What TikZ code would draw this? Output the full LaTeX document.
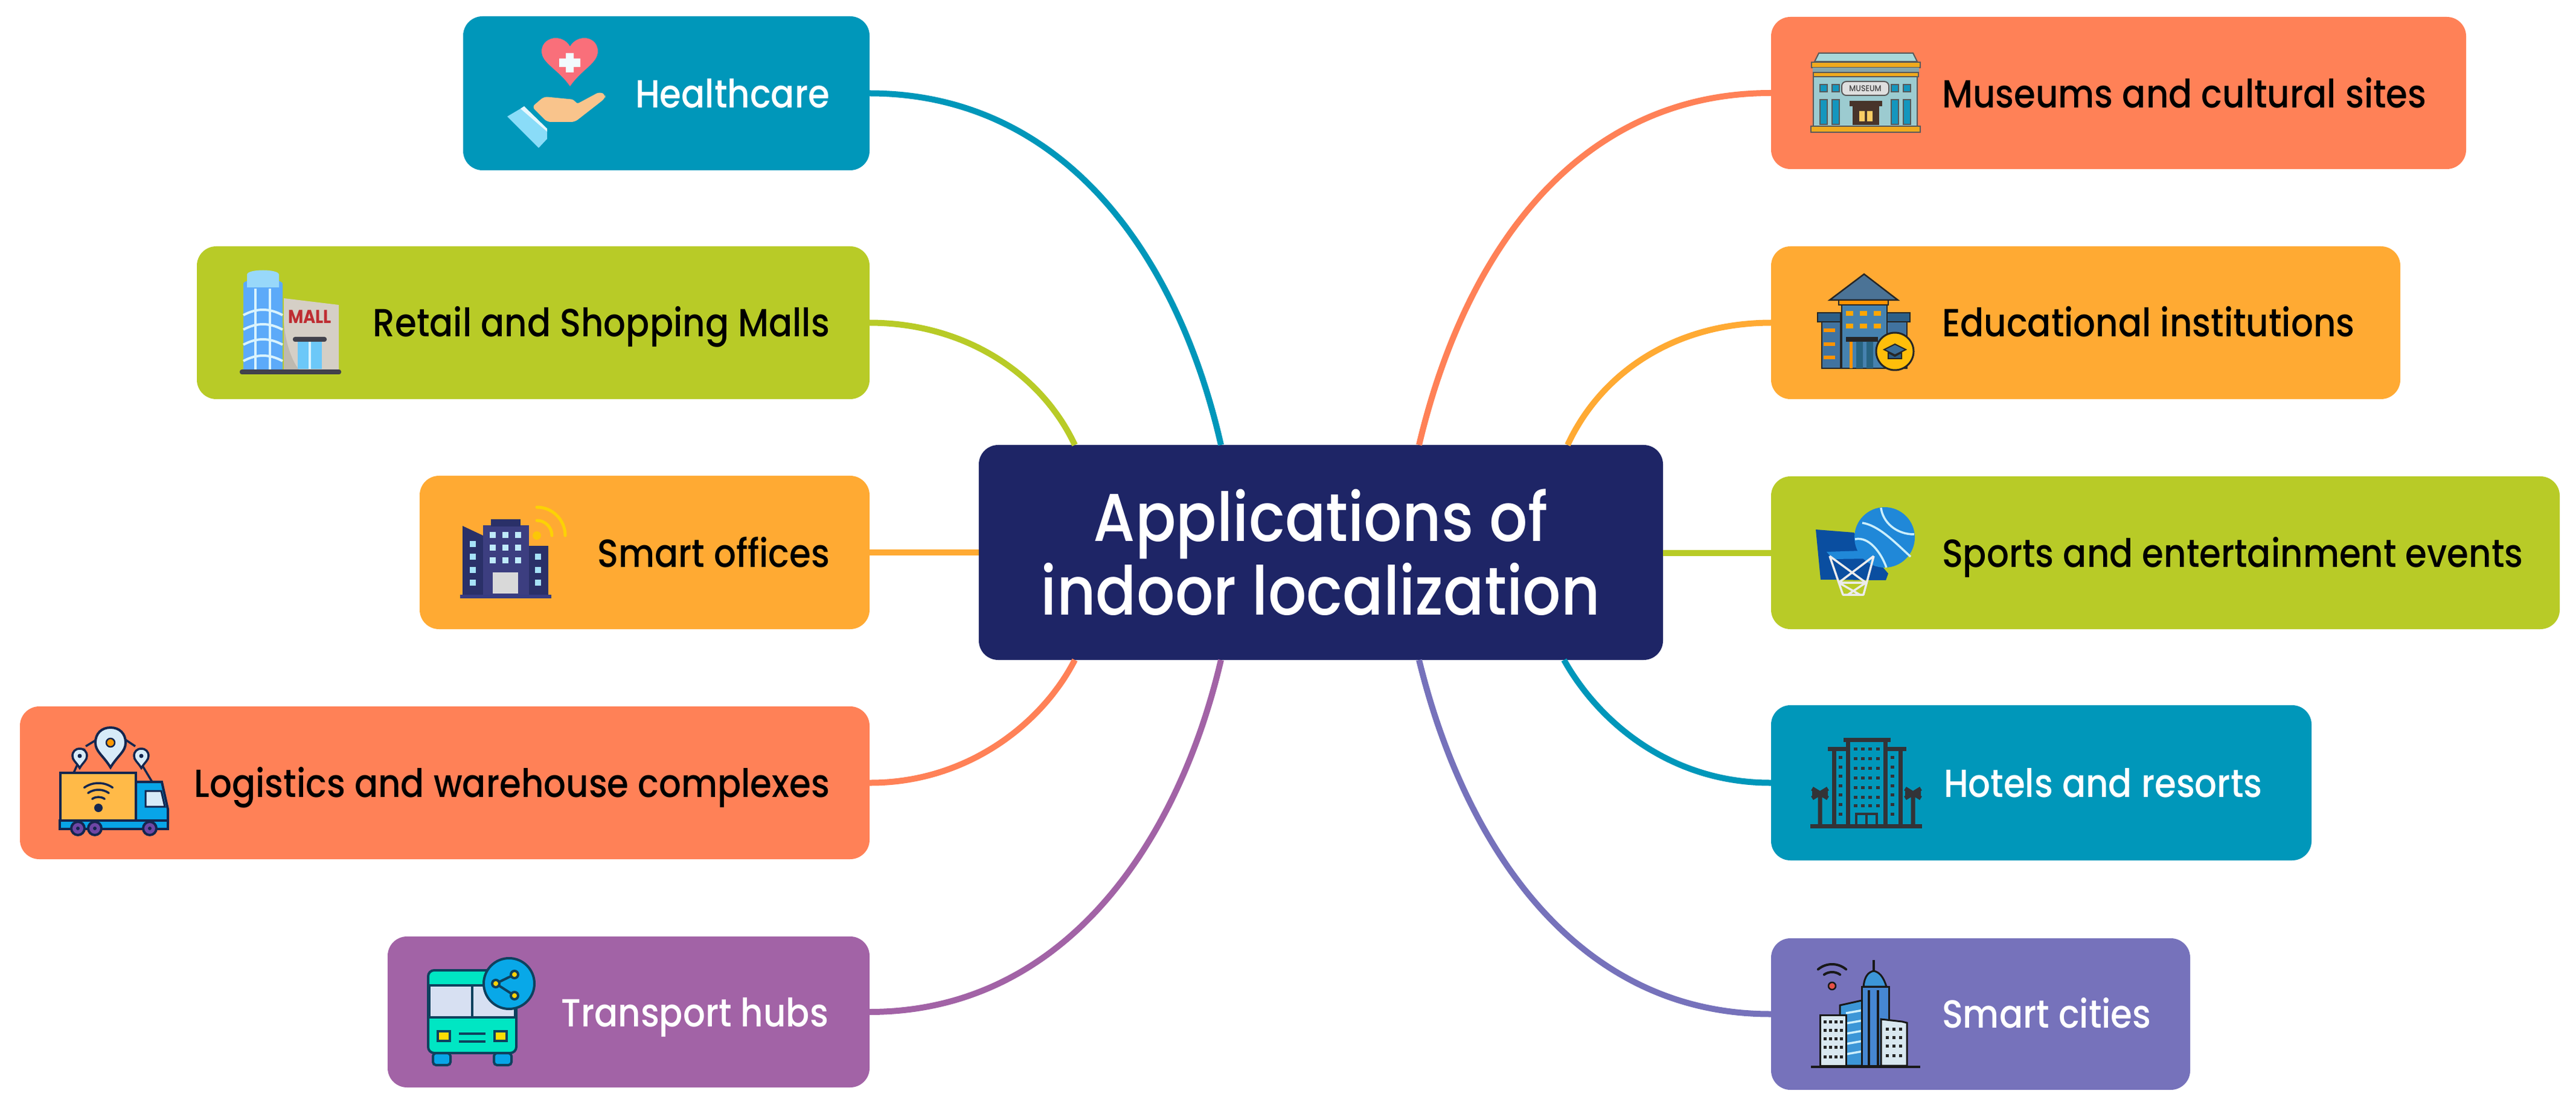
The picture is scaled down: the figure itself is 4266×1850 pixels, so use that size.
\documentclass[tikz,border=0pt]{standalone}
\usepackage{fontspec}
\setmainfont{Poppins}[UprightFont=* Medium,BoldFont=* Bold,FakeStretch=0.89]
\definecolor{cteal}{HTML}{0097BA}
\definecolor{cgreen}{HTML}{B8CB27}
\definecolor{corange}{HTML}{FFAA33}
\definecolor{ccoral}{HTML}{FF8157}
\definecolor{cpurple}{HTML}{A263A6}
\definecolor{cperi}{HTML}{7672BB}
\definecolor{cnavy}{HTML}{1E2566}
\definecolor{inavy}{HTML}{14264F}
\definecolor{sky}{HTML}{6CC8F8}
\def\uu{0.2pt}
\tikzset{
  x=0.2pt,y=-0.2pt,
  bx/.style={rectangle,rounded corners=6.4pt,inner sep=0pt,outer sep=0pt},
  lab/.style={inner sep=0pt,outer sep=0pt,font=\fontsize{13}{15}\selectfont},
  labL/.style={lab,anchor=base east},
  labR/.style={lab,anchor=base west},
  conn/.style={line width=2pt,line cap=butt},
}
\newcommand{\bxnode}[6]{\node[bx,fill=#6,minimum width={(#4-#2)*\uu},minimum height={(#5-#3)*\uu}] (#1) at ({(#2+#4)/2},{(#3+#5)/2}) {};}
\newcommand{\pinpath}[4]{({#1},{#4}) .. controls ({#1-0.5*#3},{#4-0.5*(#4-#2)}) and ({#1-#3},{#2+0.6*#3}) .. ({#1-#3},{#2}) .. controls ({#1-#3},{#2-0.6*#3}) and ({#1-0.6*#3},{#2-#3}) .. ({#1},{#2-#3}) .. controls ({#1+0.6*#3},{#2-#3}) and ({#1+#3},{#2-0.6*#3}) .. ({#1+#3},{#2}) .. controls ({#1+#3},{#2+0.6*#3}) and ({#1+0.5*#3},{#4-0.5*(#4-#2)}) .. ({#1},{#4}) -- cycle}
% wifi arcs: x, y, start, end, radius(px), colour, width
\newcommand{\wifiarc}[7]{\draw[#6,line width=#7,line cap=round] ([shift={(#1,#2)}]#3:#5*\uu) arc[start angle=#3,end angle=#4,radius=#5*\uu];}
\begin{document}
\begin{tikzpicture}
\useasboundingbox (0,0) rectangle (4266,1850);
% ---- boxes
\bxnode{center}{1621}{737}{2754}{1093}{cnavy}
\bxnode{hc}{767}{27}{1440}{282}{cteal}
\bxnode{retail}{326}{408}{1440}{661}{cgreen}
\bxnode{office}{695}{788}{1440}{1042}{corange}
\bxnode{logi}{33}{1170}{1440}{1423}{ccoral}
\bxnode{trans}{642}{1551}{1440}{1801}{cpurple}
\bxnode{muse}{2933}{28}{4084}{280}{ccoral}
\bxnode{edu}{2933}{408}{3975}{661}{corange}
\bxnode{sport}{2933}{789}{4239}{1042}{cgreen}
\bxnode{hotel}{2933}{1168}{3828}{1425}{cteal}
\bxnode{city}{2933}{1554}{3627}{1805}{cperi}
% ---- connector ends on the centre box
\coordinate (t1) at (1780,737);
\coordinate (t2) at (2022,737);
\coordinate (t3) at (2350,737);
\coordinate (t4) at (2596,737);
\coordinate (b1) at (1780,1093);
\coordinate (b2) at (2022,1093);
\coordinate (b3) at (2350,1093);
\coordinate (b4) at (2590,1093);
% ---- connectors
\draw[conn,cteal] (hc.east) .. controls (1760,155) and (1950,420) .. (t2);
\draw[conn,cgreen] (retail.east) .. controls (1600,535) and (1725,620) .. (t1);
\draw[conn,corange] (office.east) -- (center.west |- office.east);
\draw[conn,ccoral] (logi.east) .. controls (1600,1297) and (1725,1200) .. (b1);
\draw[conn,cpurple] (trans.east) .. controls (1760,1676) and (1950,1400) .. (b2);
\draw[conn,ccoral] (muse.west) .. controls (2610,154) and (2425,420) .. (t3);
\draw[conn,corange] (edu.west) .. controls (2770,535) and (2650,620) .. (t4);
\draw[conn,cgreen] (sport.west) -- (center.east |- sport.west);
\draw[conn,cteal] (hotel.west) .. controls (2770,1297) and (2650,1200) .. (b4);
\draw[conn,cperi] (city.west) .. controls (2610,1680) and (2425,1400) .. (b3);
% ---- texts
\node[align=center,text=white,inner sep=0pt,font=\fontsize{22.4}{24.4}\selectfont] (title) at (2187,915) {Applications of\hspace{10pt}\\indoor localization};
\node[labL,text=white] (lhc) at (1374,179) {Healthcare};
\node[labL,text=black] (lretail) at (1374,558) {Retail and Shopping Malls};
\node[labL,text=black] (loffice) at (1374,939) {Smart offices};
\node[labL,text=black] (llogi) at (1374,1320) {Logistics and warehouse complexes};
\node[labL,text=white] (ltrans) at (1372,1700) {Transport hubs};
\node[labR,text=black] (lmuse) at (3216,179) {Museums and cultural sites};
\node[labR,text=black] (ledu) at (3216,558) {Educational institutions};
\node[labR,text=black] (lsport) at (3216,939) {Sports and entertainment events};
\node[labR,text=white] (lhotel) at (3219,1320) {Hotels and resorts};
\node[labR,text=white] (lcity) at (3216,1702) {Smart cities};
% ---- icon: healthcare
\fill[fill={rgb,255:red,249;green,111;blue,122}] (944,143) .. controls (925,115) and (897,105) .. (897,85) .. controls (897,70) and (910,63) .. (920,63) .. controls (932,63) and (940,70) .. (944,77) .. controls (948,70) and (956,63) .. (968,63) .. controls (978,63) and (990,70) .. (990,85) .. controls (990,105) and (963,115) .. (944,143) -- cycle;
\fill[white!95!cyan] (937,88) rectangle (950,120) (926,97) rectangle (961,111);
\fill[fill={rgb,255:red,249;green,196;blue,140},rounded corners=1.2pt] (881,177) -- (901,160) -- (952,165) -- (954,173) -- (993,152) -- (1003,157) -- (1002,163) -- (952,202) -- (906,202) -- cycle;
\fill[fill={rgb,255:red,138;green,220;blue,248}] (840,193) -- (867,177) -- (906,215) -- (906,230) -- (892,245) -- cycle;
\fill[white!90!cyan] (862,180) -- (868,176) -- (906,213) -- (906,218) -- cycle;
% ---- icon: mall
\fill[sky!85!blue] (403,470) .. controls (403,460) and (468,460) .. (468,470) -- (468,612) -- (403,612) -- cycle;
\fill[sky!70!white] (409,455) .. controls (409,445) and (462,445) .. (462,455) -- (462,476) -- (409,476) -- cycle;
\draw[white!85!cyan,line width=0.8pt] (423,478) -- (423,612) (447,478) -- (447,612);
\foreach \yy in {514,538,563,590} {\draw[white!85!cyan,line width=0.8pt] (403,\yy+8) .. controls (425,\yy-4) and (446,\yy-4) .. (468,\yy+8);}
\fill[fill={rgb,255:red,213;green,207;blue,198}] (470,494) -- (561,505) -- (561,612) -- (470,612) -- cycle;
\fill[fill={rgb,255:red,190;green,185;blue,175}] (470,530) .. controls (472,570) and (485,600) .. (495,612) -- (470,612) -- cycle;
\node[inner sep=0pt,text={rgb,255:red,190;green,45;blue,50},font=\fontsize{6.2}{6.5}\bfseries\selectfont] (mall) at (513,525) {MALL};
\fill[sky] (493,566) rectangle (533,611);
\draw[white!85!cyan,line width=0.8pt] (513,566) -- (513,611);
\fill[fill={rgb,255:red,65;green,65;blue,75},rounded corners=0.7pt] (485,558) rectangle (541,566);
\fill[fill={rgb,255:red,65;green,65;blue,75},rounded corners=0.7pt] (397,612) rectangle (565,620);
% ---- icon: offices
\fill[fill={rgb,255:red,42;green,48;blue,104}] (766,871) -- (800,887) -- (800,985) -- (766,985) -- cycle;
\fill[fill={rgb,255:red,60;green,62;blue,128}] (800,870) rectangle (876,985);
\fill[fill={rgb,255:red,42;green,48;blue,104}] (813,860) rectangle (862,872);
\fill[fill={rgb,255:red,42;green,48;blue,104}] (876,904) rectangle (908,985);
\fill[fill={rgb,255:red,55;green,60;blue,130}] (762,985) rectangle (913,991);
\foreach \xx in {816,837,858}{\foreach \yy in {886,907,928}{\fill[cyan!25!white] (\xx-5,\yy-5) rectangle ++(10,10);}}
\foreach \yy in {901,922,944,965}{\fill[cyan!35!white] (783-5,\yy-5) rectangle ++(10,10);}
\foreach \yy in {922,944,965}{\fill[cyan!35!white] (891-5,\yy-5) rectangle ++(10,10);}
\fill[gray!30] (816,948) rectangle (858,983);
\fill[yellow!60!orange] (889,887) circle[radius=7*\uu];
\wifiarc{889}{887}{0}{90}{25}{yellow!70!orange}{1pt}
\wifiarc{889}{887}{0}{90}{47}{yellow!70!orange}{1pt}
% ---- icon: truck
\draw[inavy,line width=0.7pt] (140,1240) -- (122,1280) (225,1250) -- (252,1295) (165,1222) -- (142,1236) (203,1222) -- (224,1236);
\fill[fill={rgb,255:red,255;green,186;blue,72},draw=inavy,line width=0.8pt] (100,1280) rectangle (225,1359);
\fill[fill={rgb,255:red,8;green,165;blue,232},draw=inavy,line width=0.8pt] (225,1295) -- (268,1295) -- (278,1340) -- (278,1362) -- (225,1362) -- cycle;
\fill[fill={rgb,255:red,215;green,235;blue,248},draw=inavy,line width=0.6pt] (241,1310) -- (267,1310) -- (273,1336) -- (241,1336) -- cycle;
\fill[fill={rgb,255:red,8;green,165;blue,232},draw=inavy,line width=0.8pt] (99,1359) rectangle (278,1373);
\foreach \xx in {129,157,248}{\fill[fill={rgb,255:red,110;green,70;blue,165},draw=inavy,line width=0.8pt] (\xx,1372) circle[radius=11*\uu]; \fill[inavy] (\xx,1372) circle[radius=3*\uu];}
\fill[fill={rgb,255:red,215;green,235;blue,248},draw=inavy,line width=0.8pt] \pinpath{183}{1230}{25}{1271};
\fill[fill=orange!80!yellow,draw=inavy,line width=0.5pt] (183,1230) circle[radius=7*\uu];
\fill[fill={rgb,255:red,215;green,235;blue,248},draw=inavy,line width=0.7pt] \pinpath{132}{1252}{12}{1272};
\fill[inavy] (132,1252) circle[radius=3.5*\uu];
\fill[fill={rgb,255:red,215;green,235;blue,248},draw=inavy,line width=0.7pt] \pinpath{234}{1252}{12}{1272};
\fill[inavy] (234,1252) circle[radius=3.5*\uu];
\fill[inavy] (163,1338) circle[radius=7*\uu];
\wifiarc{163}{1338}{55}{125}{18}{inavy}{0.7pt}
\wifiarc{163}{1338}{55}{125}{30}{inavy}{0.7pt}
\wifiarc{163}{1338}{55}{125}{41}{inavy}{0.7pt}
% ---- icon: bus
\tikzset{busline/.style={draw=inavy!70!teal,line width=0.8pt}}
\fill[fill={rgb,255:red,8;green,165;blue,232},busline,rounded corners=1pt] (717,1744) rectangle (746,1764);
\fill[fill={rgb,255:red,8;green,165;blue,232},busline,rounded corners=1pt] (818,1744) rectangle (847,1764);
\fill[fill={rgb,255:red,0;green,230;blue,195},busline,rounded corners=2pt] (709,1607) rectangle (855,1744);
\fill[fill={rgb,255:red,215;green,224;blue,242},busline] (711,1632) rectangle (782,1685) (782,1632) rectangle (853,1685);
\fill[fill=yellow!80!orange,busline] (725,1708) rectangle (745,1724) (819,1708) rectangle (839,1724);
\draw[busline] (760,1712) -- (804,1712) (760,1725) -- (804,1725);
\fill[fill={rgb,255:red,8;green,168;blue,232},busline] (843,1629) circle[radius=42*\uu];
\draw[busline] (852,1614) -- (821,1629) -- (852,1649);
\foreach \pp in {(852,1614),(821,1629),(852,1649)}{\fill[fill=yellow!70!orange,busline] \pp circle[radius=6*\uu];}
% ---- icon: museum
\tikzset{museline/.style={draw=black!65,line width=0.4pt}}
\fill[fill={rgb,255:red,168;green,216;blue,218},museline] (3005,102) -- (3012,88) -- (3168,88) -- (3175,102) -- cycle;
\fill[fill={rgb,255:red,156;green,203;blue,208},museline] (3003,126) rectangle (3175,209);
\fill[fill={rgb,255:red,240;green,170;blue,30},museline] (3000,103) rectangle (3180,112);
\fill[fill={rgb,255:red,135;green,165;blue,170}] (3002,112) rectangle (3178,120);
\fill[fill={rgb,255:red,240;green,170;blue,30},museline] (3003,120) rectangle (3177,127);
\fill[fill={rgb,255:red,240;green,170;blue,30},museline] (2999,209) rectangle (3180,219);
\foreach \xx in {3020,3040,3138,3158}{\fill[fill={rgb,255:red,20;green,150;blue,190},museline] (\xx-6,140) rectangle ++(12,12); \fill[fill={rgb,255:red,20;green,150;blue,190},museline] (\xx-6,165) rectangle ++(12,41);}
\fill[fill=white!75!gray,museline,rounded corners=1.5pt] (3050,135) rectangle (3128,158);
\node[inner sep=0pt,text=black!75,font=\fontsize{2.8}{3}\selectfont] (musesign) at (3089,146.5) {MUSEUM};
\fill[fill={rgb,255:red,72;green,52;blue,42}] (3068,176) rectangle (3112,207);
\fill[fill={rgb,255:red,72;green,52;blue,42}] (3063,167) rectangle (3117,176);
\fill[fill={rgb,255:red,250;green,205;blue,100}] (3079,184) rectangle (3088,201) (3092,184) rectangle (3101,201);
% ---- icon: school
\tikzset{eduline/.style={draw=black!85,line width=0.5pt}}
\fill[fill={rgb,255:red,65;green,115;blue,160},eduline] (3017,527) rectangle (3048,610);
\fill[fill={rgb,255:red,65;green,115;blue,160},eduline] (3125,527) rectangle (3158,610);
\fill[fill={rgb,255:red,45;green,95;blue,135},eduline] (3010,518) rectangle (3048,533);
\fill[fill={rgb,255:red,45;green,95;blue,135},eduline] (3125,518) rectangle (3163,533);
\foreach \yy in {547,570,592}{\fill[fill=orange!85!yellow] (3020,\yy-3) rectangle (3039,\yy+3);}
\fill[fill={rgb,255:red,70;green,130;blue,175},eduline] (3050,505) rectangle (3125,610);
\fill[fill={rgb,255:red,75;green,115;blue,150},eduline] (3030,497) -- (3087,454) -- (3143,497) -- cycle;
\fill[fill=orange!85!yellow,eduline] (3045,497) rectangle (3127,505);
\foreach \xx in {3063,3086,3109}{\foreach \yy in {519,540}{\fill[fill=orange!70!yellow] (\xx-6,\yy-4) rectangle ++(12,8);}}
\fill[black!85] (3057,558) rectangle (3110,566);
\fill[fill=orange!85!yellow] (3063,566) rectangle (3068,610);
\fill[fill={rgb,255:red,40;green,100;blue,130}] (3074,566) rectangle (3085,610) (3091,566) rectangle (3102,610);
\fill[fill={rgb,255:red,255;green,190;blue,10},draw=black!85,line width=0.6pt] (3138,582) circle[radius=31*\uu];
\fill[fill={rgb,255:red,60;green,110;blue,150},draw=black!85,line width=0.4pt] (3120,579) -- (3138,570) -- (3156,579) -- (3138,588) -- cycle;
\fill[fill={rgb,255:red,45;green,95;blue,135},draw=black!85,line width=0.4pt] (3127,584) -- (3138,590) -- (3149,584) -- (3149,594) -- (3127,594) -- cycle;
% ---- icon: sports
\fill[fill={rgb,255:red,10;green,78;blue,160}] (3007,877) -- (3070,882) -- (3127,950) -- (3123,961) -- (3015,960) -- cycle;
\fill[fill={rgb,255:red,32;green,136;blue,216}] (3121,890) circle[radius=50*\uu];
\draw[white!80!cyan,line width=0.7pt] (3084,866) .. controls (3110,870) and (3135,895) .. (3164,922);
\draw[white!80!cyan,line width=0.7pt] (3072,893) .. controls (3095,888) and (3115,915) .. (3124,940);
\draw[white!80!cyan,line width=0.7pt] (3115,841) .. controls (3118,865) and (3140,885) .. (3170,885);
\fill[fill={rgb,255:red,32;green,136;blue,216}] (3025,914) -- (3085,912) -- (3105,925) -- (3035,926) -- cycle;
\draw[white!85!gray,line width=0.7pt,line join=round] (3030,921) -- (3052,985) -- (3086,985) -- (3103,921) (3030,921) -- (3090,965) -- (3060,985) (3103,921) -- (3045,965) -- (3080,985) (3045,965) -- (3090,965);
% ---- icon: hotel
\tikzset{hotline/.style={draw=black!90!cyan,line width=1.4pt}}
\draw[hotline] (2998,1368) -- (3183,1368);
\draw[hotline] (3053,1225) -- (3131,1225);
\draw[hotline] (3060,1225) -- (3060,1368) (3122,1225) -- (3122,1368);
\draw[hotline] (3027,1240) -- (3060,1240) (3122,1240) -- (3157,1240);
\draw[hotline] (3037,1240) -- (3037,1368) (3147,1240) -- (3147,1368);
\foreach \xx in {3073,3085,3097,3110}{\foreach \yy in {1240,1256,1272,1288,1304,1320,1334}{\fill[black!90!cyan] (\xx-3,\yy-2.5) rectangle ++(6,5);}}
\foreach \xx in {3048,3134}{\foreach \yy in {1254,1270,1285,1301,1316,1332,1348}{\fill[black!90!cyan] (\xx-3,\yy-2.5) rectangle ++(6,5);}}
\draw[hotline,line width=0.8pt] (3074,1368) -- (3074,1348) -- (3108,1348) -- (3108,1368) (3091,1348) -- (3091,1368);
\foreach \xx in {3014,3168}{\draw[hotline] (\xx,1368) -- (\xx,1316) (\xx-13,1306) -- (\xx+13,1322) (\xx+13,1306) -- (\xx-13,1322) (\xx-13,1314) -- (\xx+13,1314);}
% ---- icon: smart city
\tikzset{cityline/.style={draw=black!90,line width=0.6pt}}
\fill[fill={rgb,255:red,60;green,150;blue,215},cityline] (3047,1665) -- (3092,1655) -- (3092,1765) -- (3047,1765) -- cycle;
\foreach \yy in {1678,1695,1712,1729,1746}{\draw[white!80!cyan,line width=0.7pt] (3057,\yy) -- (3091,\yy-6);}
\fill[fill={rgb,255:red,70;green,135;blue,210},cityline] (3083,1634) rectangle (3128,1765);
\fill[fill={rgb,255:red,60;green,150;blue,215},cityline] (3086,1634) .. controls (3088,1615) and (3095,1610) .. (3103,1608) .. controls (3111,1610) and (3118,1615) .. (3124,1634) -- cycle;
\draw[black!90,line width=0.9pt] (3103,1590) -- (3103,1610) (3095,1640) -- (3095,1765) (3110,1640) -- (3110,1765);
\fill[fill={rgb,255:red,217;green,232;blue,240},cityline] (3014,1681) rectangle (3057,1765);
\fill[fill={rgb,255:red,217;green,232;blue,240},cityline] (3115,1688) -- (3150,1692) -- (3158,1694) -- (3158,1765) -- (3115,1765) -- cycle;
\foreach \xx in {3022,3031,3040,3049}{\foreach \yy in {1692,1706,1720,1734,1750}{\fill[black!85] (\xx-2.5,\yy-2.5) rectangle ++(5,5);}}
\foreach \xx in {3125,3136,3147}{\foreach \yy in {1704,1718,1732,1748}{\fill[black!85] (\xx-2.5,\yy-2.5) rectangle ++(5,5);}}
\draw[black!90,line width=0.8pt] (2999,1767) -- (3180,1767);
\fill[fill={rgb,255:red,230;green,80;blue,70},draw=black!90,line width=0.5pt] (3034,1633) circle[radius=6*\uu];
\wifiarc{3034}{1633}{55}{125}{23}{black!90}{0.8pt}
\wifiarc{3034}{1633}{50}{130}{36}{black!90}{0.8pt}
\end{tikzpicture}
\end{document}
